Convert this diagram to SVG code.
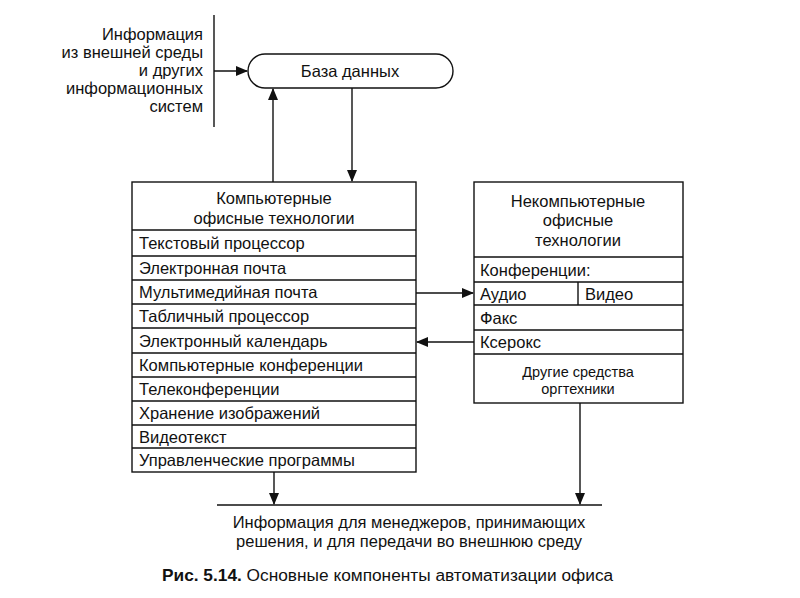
<svg xmlns="http://www.w3.org/2000/svg" width="800" height="598" viewBox="0 0 800 598">
<defs>
<marker id="ah" markerWidth="12" markerHeight="10" refX="11" refY="5" orient="auto" markerUnits="userSpaceOnUse"><path d="M0,0 L12,5 L0,10 Z" fill="#111"/></marker>
</defs>
<style>
text{font-family:"Liberation Sans",Arial,sans-serif;font-size:16.5px;fill:#111}
.c{text-anchor:middle}
.r{text-anchor:end}
.s{font-size:14.5px}
.cap{font-size:17.3px}
.box{fill:#fff;stroke:#111;stroke-width:1.4}
.ln{stroke:#111;stroke-width:1.4;fill:none}
.b{font-weight:bold}
</style>
<rect width="800" height="598" fill="#fff"/>
<g id="source">
<text class="r" x="203" y="40">Информация</text>
<text class="r" x="203" y="58">из внешней среды</text>
<text class="r" x="203" y="76">и других</text>
<text class="r" x="203" y="94">информационных</text>
<text class="r" x="203" y="112">систем</text>
<line class="ln" x1="214" y1="15" x2="214" y2="127"/>
</g>
<g id="db">
<rect class="box" x="248" y="54" width="205" height="34" rx="17" ry="17"/>
<text class="c" x="350" y="77">База данных</text>
</g>
<g id="computer">
<rect class="box" x="132" y="182" width="284" height="290"/>
<text class="c" x="274" y="204">Компьютерные</text>
<text class="c" x="274" y="224">офисные технологии</text>
<path class="ln" d="M132,230H416M132,256H416M132,280H416M132,304H416M132,328H416M132,353H416M132,377H416M132,401H416M132,425H416M132,448H416"/>
<text x="139" y="249">Текстовый процессор</text>
<text x="139" y="274">Электронная почта</text>
<text x="139" y="298">Мультимедийная почта</text>
<text x="139" y="322">Табличный процессор</text>
<text x="139" y="347">Электронный календарь</text>
<text x="139" y="371">Компьютерные конференции</text>
<text x="139" y="395">Телеконференции</text>
<text x="139" y="419">Хранение изображений</text>
<text x="139" y="443">Видеотекст</text>
<text x="139" y="466">Управленческие программы</text>
</g>
<g id="noncomputer">
<rect class="box" x="474" y="182" width="209" height="221"/>
<text class="c" x="578" y="207">Некомпьютерные</text>
<text class="c" x="578" y="226">офисные</text>
<text class="c" x="578" y="246">технологии</text>
<path class="ln" d="M474,257H683M474,282H683M474,305H683M474,330H683M474,354H683M578,282V305"/>
<text x="480" y="276">Конференции:</text>
<text x="480" y="300">Аудио</text>
<text x="585" y="300">Видео</text>
<text x="480" y="324">Факс</text>
<text x="480" y="348">Ксерокс</text>
<text class="c s" x="578" y="377">Другие средства</text>
<text class="c s" x="578" y="394">оргтехники</text>
</g>
<g id="output">
<line class="ln" x1="217" y1="505" x2="602" y2="505"/>
<text class="c" x="409" y="528">Информация для менеджеров, принимающих</text>
<text class="c" x="409" y="547">решения, и для передачи во внешнюю среду</text>
</g>
<g id="connectors">
<line class="ln" x1="214" y1="71" x2="247" y2="71" marker-end="url(#ah)"/>
<line class="ln" x1="273" y1="182" x2="273" y2="89" marker-end="url(#ah)"/>
<line class="ln" x1="352" y1="88" x2="352" y2="181" marker-end="url(#ah)"/>
<line class="ln" x1="416" y1="293" x2="473" y2="293" marker-end="url(#ah)"/>
<line class="ln" x1="474" y1="342" x2="417" y2="342" marker-end="url(#ah)"/>
<line class="ln" x1="274" y1="472" x2="274" y2="504" marker-end="url(#ah)"/>
<line class="ln" x1="580" y1="403" x2="580" y2="504" marker-end="url(#ah)"/>
</g>
<g id="caption">
<text class="cap" x="162" y="581"><tspan class="b">Рис. 5.14.</tspan> Основные компоненты автоматизации офиса</text>
</g>
</svg>
